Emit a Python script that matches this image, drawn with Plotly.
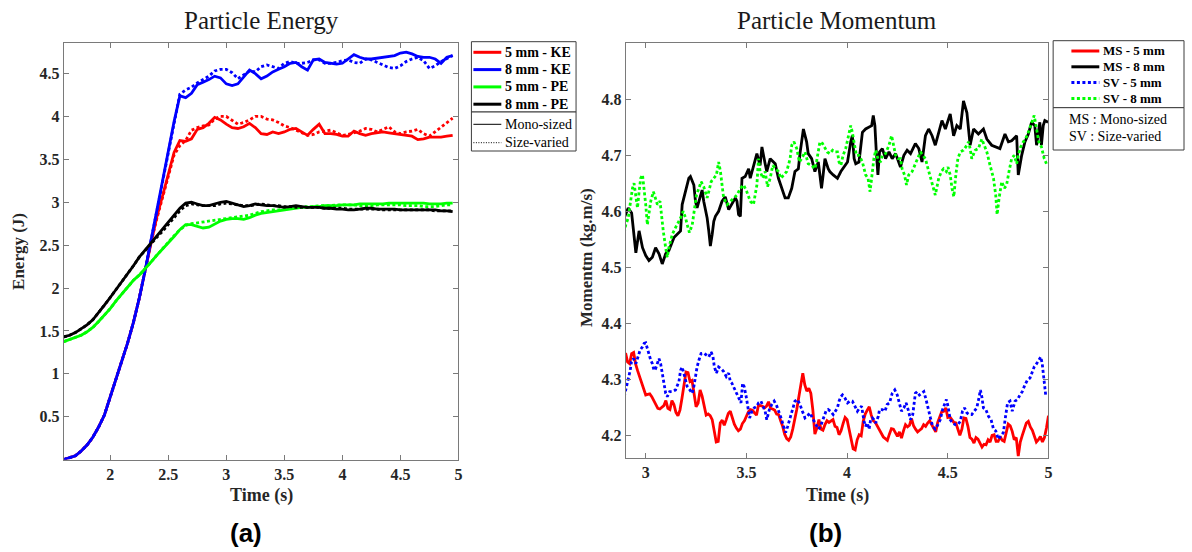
import numpy as np
import plotly.graph_objects as go

W, H = 1192, 552

# ---------------- Panel (a): Particle Energy ----------------
energy_time = np.round(1.60 + 0.05 * np.arange(68), 2)   # 1.60 ... 4.95

ke_5mm_ms = [0.00, 0.02, 0.045, 0.10, 0.17, 0.26, 0.38, 0.52,
             0.73, 0.92, 1.14, 1.36, 1.60, 1.88, 2.20, 2.53, 2.82, 3.07, 3.33, 3.58, 3.72, 3.71, 3.74, 3.85, 3.87, 3.92, 3.99, 3.96,
             3.91, 3.87, 3.86, 3.88, 3.92, 3.87, 3.80, 3.79, 3.82, 3.80, 3.82, 3.85, 3.86, 3.82, 3.78, 3.85, 3.91, 3.80, 3.80, 3.79,
             3.77, 3.77, 3.83, 3.80, 3.78, 3.80, 3.81, 3.82, 3.81, 3.80, 3.79, 3.78, 3.77, 3.73, 3.74, 3.76, 3.76, 3.76, 3.77, 3.78]
ke_5mm_sv = [0.00, 0.02, 0.045, 0.10, 0.17, 0.26, 0.38, 0.52,
             0.73, 0.92, 1.14, 1.36, 1.60, 1.88, 2.20, 2.53, 2.80, 3.04, 3.30, 3.55, 3.66, 3.72, 3.84, 3.87, 3.89, 3.90, 3.97, 4.00,
             4.00, 3.95, 3.91, 3.93, 3.96, 4.00, 4.00, 3.97, 3.96, 3.93, 3.89, 3.87, 3.84, 3.81, 3.78, 3.79, 3.82, 3.83, 3.84, 3.81,
             3.78, 3.79, 3.81, 3.83, 3.86, 3.85, 3.82, 3.85, 3.88, 3.82, 3.80, 3.82, 3.83, 3.85, 3.80, 3.77, 3.82, 3.87, 3.92, 3.98]
ke_8mm_ms = [0.00, 0.02, 0.045, 0.10, 0.17, 0.26, 0.38, 0.52,
             0.73, 0.92, 1.14, 1.36, 1.60, 1.88, 2.20, 2.55, 2.88, 3.22, 3.58, 3.94, 4.24, 4.22, 4.27, 4.37, 4.40, 4.43, 4.47, 4.45,
             4.38, 4.36, 4.38, 4.46, 4.54, 4.50, 4.44, 4.47, 4.52, 4.55, 4.58, 4.62, 4.63, 4.58, 4.54, 4.66, 4.67, 4.63, 4.62, 4.61,
             4.62, 4.67, 4.72, 4.69, 4.67, 4.67, 4.68, 4.69, 4.70, 4.71, 4.74, 4.75, 4.73, 4.70, 4.69, 4.69, 4.67, 4.62, 4.69, 4.71]
ke_8mm_sv = [0.00, 0.02, 0.045, 0.10, 0.17, 0.26, 0.38, 0.52,
             0.73, 0.92, 1.14, 1.36, 1.60, 1.88, 2.20, 2.55, 2.88, 3.21, 3.56, 3.92, 4.26, 4.31, 4.34, 4.39, 4.43, 4.47, 4.53, 4.55,
             4.55, 4.51, 4.44, 4.49, 4.53, 4.52, 4.58, 4.60, 4.58, 4.56, 4.62, 4.64, 4.62, 4.62, 4.63, 4.66, 4.66, 4.62, 4.62, 4.63,
             4.65, 4.66, 4.63, 4.62, 4.67, 4.66, 4.63, 4.60, 4.57, 4.56, 4.59, 4.64, 4.67, 4.69, 4.65, 4.56, 4.59, 4.64, 4.68, 4.71]
pe_5mm_ms = [1.375, 1.40, 1.42, 1.45, 1.49, 1.54, 1.61, 1.68,
             1.76, 1.85, 1.93, 2.02, 2.09, 2.15, 2.22, 2.30, 2.38, 2.45, 2.52, 2.60, 2.68, 2.74, 2.74, 2.72, 2.70, 2.71, 2.75, 2.78,
             2.80, 2.81, 2.81, 2.80, 2.82, 2.85, 2.87, 2.88, 2.89, 2.90, 2.91, 2.92, 2.93, 2.94, 2.94, 2.95, 2.95, 2.96, 2.96, 2.96,
             2.97, 2.97, 2.97, 2.98, 2.98, 2.98, 2.98, 2.98, 2.99, 2.99, 2.99, 2.99, 2.99, 2.99, 2.99, 2.98, 2.98, 2.98, 2.99, 2.99]
pe_5mm_sv = [1.375, 1.40, 1.42, 1.45, 1.49, 1.54, 1.61, 1.68,
             1.76, 1.85, 1.93, 2.02, 2.09, 2.15, 2.22, 2.30, 2.38, 2.46, 2.53, 2.61, 2.68, 2.73, 2.75, 2.76, 2.77, 2.78, 2.79, 2.80,
             2.81, 2.82, 2.83, 2.84, 2.85, 2.87, 2.89, 2.90, 2.91, 2.91, 2.92, 2.93, 2.94, 2.95, 2.95, 2.95, 2.96, 2.96, 2.96, 2.97,
             2.97, 2.97, 2.97, 2.96, 2.96, 2.96, 2.97, 2.97, 2.97, 2.97, 2.97, 2.96, 2.96, 2.96, 2.95, 2.95, 2.95, 2.96, 2.97, 2.97]
pe_8mm_ms = [1.43, 1.45, 1.48, 1.52, 1.57, 1.63, 1.71, 1.80,
             1.89, 1.98, 2.07, 2.16, 2.26, 2.36, 2.44, 2.53, 2.60, 2.68, 2.76, 2.85, 2.93, 2.99, 3.00, 2.98, 2.96, 2.96, 2.98, 3.00,
             3.01, 2.99, 2.97, 2.95, 2.96, 2.98, 2.97, 2.96, 2.96, 2.95, 2.94, 2.95, 2.96, 2.95, 2.94, 2.94, 2.94, 2.93, 2.93, 2.92,
             2.92, 2.91, 2.91, 2.92, 2.93, 2.93, 2.92, 2.92, 2.92, 2.92, 2.91, 2.91, 2.91, 2.91, 2.91, 2.91, 2.91, 2.90, 2.90, 2.89]
pe_8mm_sv = [1.43, 1.45, 1.48, 1.52, 1.57, 1.63, 1.71, 1.80,
             1.89, 1.98, 2.07, 2.16, 2.26, 2.36, 2.44, 2.52, 2.59, 2.66, 2.74, 2.83, 2.90, 2.96, 2.98, 2.97, 2.96, 2.96, 2.96, 2.98,
             2.99, 2.98, 2.97, 2.96, 2.96, 2.97, 2.98, 2.97, 2.96, 2.96, 2.95, 2.95, 2.94, 2.94, 2.94, 2.94, 2.94, 2.93, 2.93, 2.93,
             2.93, 2.92, 2.92, 2.92, 2.92, 2.92, 2.92, 2.91, 2.91, 2.91, 2.91, 2.91, 2.91, 2.91, 2.91, 2.91, 2.90, 2.90, 2.90, 2.90]

# ---------------- Panel (b): Particle Momentum ----------------
mom_time = np.round(2.90 + 0.01 * np.arange(211), 2)    # 2.90 ... 5.00
ms_5mm = [4.347, 4.331, 4.328, 4.346, 4.348, 4.327, 4.315, 4.304, 4.296, 4.284,
          4.272, 4.273, 4.274, 4.269, 4.261, 4.254, 4.248, 4.247, 4.251, 4.253,
          4.262, 4.248, 4.246, 4.262, 4.255, 4.241, 4.235, 4.245, 4.266, 4.294,
          4.313, 4.312, 4.296, 4.298, 4.278, 4.251, 4.257, 4.281, 4.270, 4.254,
          4.236, 4.238, 4.235, 4.228, 4.206, 4.188, 4.189, 4.222, 4.227, 4.218,
          4.228, 4.239, 4.243, 4.229, 4.220, 4.213, 4.208, 4.211, 4.221, 4.226,
          4.233, 4.242, 4.246, 4.245, 4.240, 4.236, 4.254, 4.253, 4.252, 4.249,
          4.252, 4.260, 4.248, 4.247, 4.245, 4.238, 4.237, 4.226, 4.216, 4.202,
          4.194, 4.191, 4.197, 4.211, 4.226, 4.246, 4.268, 4.292, 4.311, 4.290,
          4.279, 4.284, 4.275, 4.245, 4.202, 4.213, 4.228, 4.211, 4.209, 4.219,
          4.226, 4.223, 4.226, 4.228, 4.216,
          4.214, 4.201, 4.208, 4.221, 4.232,
          4.228, 4.210, 4.191, 4.176, 4.174, 4.192, 4.201, 4.199, 4.225, 4.238,
          4.245, 4.251, 4.236, 4.226, 4.223, 4.216, 4.209, 4.202, 4.197, 4.194,
          4.191, 4.202, 4.212, 4.211, 4.205, 4.198, 4.206, 4.195, 4.208, 4.219,
          4.215, 4.218, 4.230, 4.217, 4.211, 4.206, 4.209, 4.212, 4.219, 4.216,
          4.222, 4.226, 4.219, 4.211, 4.206, 4.223, 4.231, 4.242, 4.243, 4.249,
          4.232, 4.233, 4.228, 4.223, 4.222, 4.212, 4.200, 4.211, 4.231, 4.230,
          4.216, 4.196, 4.193, 4.186, 4.196, 4.193, 4.185, 4.179, 4.184, 4.183,
          4.192, 4.188, 4.200, 4.201, 4.189, 4.189, 4.198, 4.191, 4.189, 4.203,
          4.220, 4.217, 4.207, 4.192, 4.196, 4.163, 4.188, 4.200, 4.212, 4.222,
          4.225, 4.215, 4.209, 4.199, 4.188, 4.192, 4.198, 4.188, 4.196, 4.213,
          4.235]

ms_8mm_pts = [
    (2.893, 4.588), (2.913, 4.606), (2.93, 4.597), (2.951, 4.526), (2.967, 4.565), (2.984, 4.535), (3.0, 4.521),
    (3.016, 4.512), (3.033, 4.518), (3.049, 4.535), (3.066, 4.524), (3.082, 4.506), (3.099, 4.524), (3.115, 4.53),
    (3.14, 4.553), (3.157, 4.559), (3.173, 4.565), (3.181, 4.612), (3.198, 4.635), (3.214, 4.659), (3.222, 4.662),
    (3.239, 4.647), (3.247, 4.618), (3.255, 4.606), (3.269, 4.624), (3.28, 4.638), (3.288, 4.618), (3.296, 4.606),
    (3.305, 4.588), (3.313, 4.565), (3.321, 4.538), (3.33, 4.559), (3.338, 4.582), (3.346, 4.591), (3.362, 4.6),
    (3.379, 4.618), (3.395, 4.626), (3.412, 4.603), (3.428, 4.612), (3.445, 4.624), (3.453, 4.618), (3.461, 4.594),
    (3.47, 4.591), (3.478, 4.659), (3.494, 4.662), (3.511, 4.676), (3.519, 4.659), (3.535, 4.682), (3.552, 4.703),
    (3.568, 4.682), (3.577, 4.715), (3.593, 4.685), (3.601, 4.671), (3.618, 4.694), (3.643, 4.685), (3.659, 4.659),
    (3.676, 4.641), (3.692, 4.624), (3.708, 4.624), (3.725, 4.641), (3.741, 4.671), (3.758, 4.676), (3.766, 4.703),
    (3.783, 4.747), (3.799, 4.724), (3.807, 4.703), (3.824, 4.694), (3.84, 4.671), (3.857, 4.688), (3.873, 4.641),
    (3.881, 4.665), (3.89, 4.694), (3.906, 4.676), (3.914, 4.671), (3.931, 4.665),
    (3.952, 4.659), (3.969, 4.671), (3.985, 4.679), (4.002, 4.688), (4.018, 4.724), (4.026, 4.735), (4.035, 4.694),
    (4.043, 4.685), (4.059, 4.688), (4.076, 4.741), (4.092, 4.747), (4.109, 4.75), (4.122, 4.753), (4.13, 4.771),
    (4.138, 4.753), (4.145, 4.706), (4.153, 4.665), (4.161, 4.706), (4.175, 4.712), (4.191, 4.694), (4.208, 4.706),
    (4.224, 4.694), (4.241, 4.703), (4.265, 4.679), (4.282, 4.7), (4.298, 4.709), (4.315, 4.703), (4.339, 4.721),
    (4.356, 4.712), (4.372, 4.688), (4.389, 4.735), (4.405, 4.747), (4.422, 4.735), (4.438, 4.718), (4.455, 4.741),
    (4.471, 4.762), (4.488, 4.747), (4.512, 4.774), (4.529, 4.735), (4.545, 4.753), (4.562, 4.747), (4.578, 4.797),
    (4.595, 4.776), (4.603, 4.741), (4.611, 4.718), (4.628, 4.747), (4.652, 4.738), (4.677, 4.747), (4.694, 4.729),
    (4.718, 4.718), (4.735, 4.715), (4.759, 4.712), (4.784, 4.738), (4.801, 4.724), (4.817, 4.726), (4.842, 4.735),
    (4.85, 4.665), (4.867, 4.7), (4.883, 4.724), (4.9, 4.738), (4.916, 4.759), (4.932, 4.753), (4.941, 4.718),
    (4.957, 4.759), (4.965, 4.718), (4.974, 4.753), (4.982, 4.762), (4.998, 4.759)]

sv_5mm_pts = [
    (2.893, 4.269), (2.901, 4.281), (2.913, 4.299), (2.923, 4.316), (2.929, 4.331), (2.939, 4.337), (2.951, 4.328),
    (2.962, 4.34), (2.972, 4.352), (2.984, 4.358), (2.992, 4.364), (3.0, 4.365), (3.008, 4.355), (3.016, 4.343),
    (3.025, 4.334), (3.033, 4.328), (3.041, 4.316), (3.049, 4.319), (3.058, 4.328), (3.066, 4.337), (3.074, 4.328),
    (3.082, 4.311), (3.091, 4.293), (3.099, 4.275), (3.107, 4.269), (3.119, 4.278), (3.132, 4.278), (3.148, 4.281),
    (3.165, 4.296), (3.173, 4.316), (3.181, 4.322), (3.189, 4.311), (3.198, 4.299), (3.206, 4.287), (3.219, 4.281),
    (3.231, 4.275), (3.239, 4.287), (3.247, 4.305), (3.255, 4.322), (3.264, 4.334), (3.275, 4.346), (3.288, 4.347),
    (3.301, 4.343), (3.313, 4.34), (3.325, 4.349), (3.334, 4.34), (3.341, 4.322), (3.351, 4.311), (3.362, 4.322),
    (3.374, 4.319), (3.387, 4.314), (3.4, 4.305), (3.412, 4.311), (3.42, 4.296), (3.428, 4.293), (3.44, 4.284),
    (3.453, 4.275), (3.466, 4.264), (3.473, 4.258), (3.481, 4.293), (3.489, 4.287), (3.499, 4.269), (3.506, 4.252),
    (3.516, 4.231), (3.527, 4.243), (3.539, 4.249), (3.552, 4.252), (3.56, 4.258), (3.572, 4.261), (3.582, 4.252),
    (3.593, 4.243), (3.601, 4.228), (3.614, 4.246), (3.626, 4.255), (3.638, 4.261), (3.651, 4.252), (3.664, 4.24),
    (3.675, 4.228), (3.684, 4.216), (3.695, 4.205), (3.705, 4.216), (3.717, 4.231), (3.73, 4.246), (3.741, 4.261),
    (3.753, 4.264), (3.766, 4.255), (3.778, 4.243), (3.791, 4.231), (3.802, 4.234), (3.815, 4.24), (3.832, 4.228),
    (3.845, 4.219), (3.857, 4.211), (3.868, 4.216), (3.881, 4.228), (3.895, 4.243), (3.906, 4.246), (3.918, 4.243),
    (3.931, 4.237),
    (3.952, 4.249), (3.96, 4.261), (3.969, 4.269), (3.977, 4.272), (3.99, 4.266), (4.002, 4.258), (4.013, 4.261),
    (4.026, 4.261), (4.04, 4.252), (4.051, 4.243), (4.063, 4.249), (4.072, 4.252), (4.084, 4.225), (4.092, 4.216),
    (4.1, 4.222), (4.109, 4.211), (4.117, 4.228), (4.125, 4.231), (4.133, 4.228), (4.142, 4.222), (4.155, 4.234),
    (4.161, 4.246), (4.175, 4.246), (4.188, 4.243), (4.199, 4.255), (4.211, 4.258), (4.224, 4.275), (4.237, 4.281),
    (4.249, 4.272), (4.26, 4.255), (4.27, 4.243), (4.282, 4.249), (4.293, 4.258), (4.303, 4.246), (4.315, 4.228),
    (4.326, 4.237), (4.339, 4.275), (4.348, 4.278), (4.359, 4.272), (4.369, 4.275), (4.381, 4.278), (4.392, 4.264),
    (4.402, 4.246), (4.414, 4.231), (4.425, 4.216), (4.438, 4.211), (4.451, 4.219), (4.463, 4.228), (4.474, 4.246),
    (4.484, 4.255), (4.493, 4.264), (4.501, 4.252), (4.512, 4.228), (4.524, 4.222), (4.537, 4.219), (4.55, 4.219),
    (4.562, 4.225), (4.573, 4.243), (4.583, 4.249), (4.595, 4.24), (4.606, 4.237), (4.619, 4.237), (4.633, 4.243),
    (4.644, 4.249), (4.656, 4.269), (4.662, 4.281), (4.669, 4.269), (4.677, 4.249), (4.689, 4.246), (4.702, 4.234),
    (4.715, 4.228), (4.727, 4.211), (4.738, 4.208), (4.751, 4.193), (4.764, 4.199), (4.776, 4.205), (4.787, 4.234),
    (4.797, 4.258), (4.809, 4.261), (4.82, 4.243), (4.834, 4.261), (4.847, 4.264), (4.858, 4.272), (4.87, 4.278),
    (4.883, 4.29), (4.896, 4.299), (4.908, 4.302), (4.919, 4.311), (4.929, 4.322), (4.941, 4.328), (4.952, 4.334),
    (4.962, 4.34), (4.969, 4.328), (4.979, 4.299), (4.987, 4.269)]

sv_8mm_pts = [
    (2.893, 4.562), (2.901, 4.576), (2.913, 4.588), (2.923, 4.612), (2.934, 4.641), (2.942, 4.65), (2.951, 4.624),
    (2.959, 4.606), (2.967, 4.635), (2.975, 4.659), (2.984, 4.665), (2.992, 4.641), (3.0, 4.612), (3.008, 4.576),
    (3.016, 4.6), (3.025, 4.618), (3.038, 4.635), (3.049, 4.624), (3.058, 4.612), (3.071, 4.618), (3.077, 4.594),
    (3.087, 4.565), (3.099, 4.535), (3.107, 4.518), (3.115, 4.535), (3.132, 4.559), (3.148, 4.571), (3.165, 4.582),
    (3.173, 4.588), (3.186, 4.6), (3.198, 4.588), (3.206, 4.576), (3.217, 4.562), (3.231, 4.576), (3.242, 4.606),
    (3.252, 4.629), (3.264, 4.641), (3.275, 4.653), (3.288, 4.644), (3.297, 4.635), (3.305, 4.624), (3.313, 4.635),
    (3.325, 4.653), (3.338, 4.659), (3.351, 4.665), (3.362, 4.688), (3.371, 4.671), (3.379, 4.647), (3.387, 4.624),
    (3.404, 4.612), (3.42, 4.618), (3.437, 4.624), (3.453, 4.629), (3.47, 4.641), (3.486, 4.647), (3.502, 4.635),
    (3.519, 4.618), (3.535, 4.612), (3.544, 4.629), (3.552, 4.647), (3.56, 4.694), (3.568, 4.671), (3.582, 4.659),
    (3.593, 4.671), (3.605, 4.644), (3.618, 4.659), (3.631, 4.682), (3.647, 4.676), (3.659, 4.671), (3.671, 4.659),
    (3.684, 4.665), (3.7, 4.671), (3.717, 4.694), (3.725, 4.718), (3.736, 4.724), (3.75, 4.712), (3.763, 4.688),
    (3.774, 4.694), (3.791, 4.706), (3.807, 4.685), (3.824, 4.682), (3.84, 4.676), (3.848, 4.688), (3.865, 4.724),
    (3.878, 4.721), (3.89, 4.712), (3.901, 4.706), (3.914, 4.703), (3.928, 4.709), (3.939, 4.706),
    (3.952, 4.706), (3.96, 4.688), (3.969, 4.682), (3.98, 4.7), (3.993, 4.712), (4.007, 4.735), (4.018, 4.753),
    (4.026, 4.741), (4.035, 4.724), (4.046, 4.7), (4.059, 4.7), (4.076, 4.688), (4.092, 4.665), (4.104, 4.659),
    (4.114, 4.635), (4.122, 4.659), (4.133, 4.694), (4.142, 4.709), (4.153, 4.694), (4.166, 4.688), (4.175, 4.7),
    (4.191, 4.703), (4.208, 4.718), (4.221, 4.735), (4.232, 4.712), (4.241, 4.7), (4.254, 4.694), (4.265, 4.694),
    (4.273, 4.676), (4.285, 4.665), (4.295, 4.647), (4.306, 4.665), (4.323, 4.671), (4.336, 4.682), (4.348, 4.694),
    (4.364, 4.706), (4.376, 4.7), (4.389, 4.694), (4.402, 4.676), (4.414, 4.659), (4.425, 4.647), (4.438, 4.629),
    (4.455, 4.659), (4.468, 4.671), (4.479, 4.676), (4.493, 4.671), (4.501, 4.679), (4.512, 4.665), (4.521, 4.641),
    (4.53, 4.626), (4.54, 4.665), (4.55, 4.694), (4.562, 4.706), (4.578, 4.709), (4.595, 4.718), (4.603, 4.724),
    (4.611, 4.712), (4.619, 4.694), (4.636, 4.709), (4.652, 4.712), (4.669, 4.729), (4.682, 4.718), (4.694, 4.706),
    (4.71, 4.682), (4.727, 4.659), (4.738, 4.629), (4.745, 4.594), (4.755, 4.624), (4.768, 4.653), (4.781, 4.641),
    (4.792, 4.647), (4.804, 4.671), (4.817, 4.694), (4.83, 4.7), (4.842, 4.685), (4.85, 4.7), (4.862, 4.715),
    (4.875, 4.724), (4.886, 4.729), (4.9, 4.741), (4.916, 4.759), (4.929, 4.771), (4.941, 4.747), (4.952, 4.724),
    (4.965, 4.715), (4.979, 4.694), (4.99, 4.685)]

# ---------------- styling ----------------
RED, BLUE, GREEN, BLACK = "#FF0000", "#0000FF", "#00FF00", "#000000"
SERIF = "Liberation Serif"
AXIS_GRAY = "#7a7a7a"
TEXT_DARK = "#262626"
LW = 2.8
DOT = "3px,2.5px"


def px(x):
    return x / W


def py(y):
    return 1 - y / H


fig = go.Figure()

energy_series = [
    (ke_5mm_ms, RED, "solid"), (ke_5mm_sv, RED, DOT),
    (ke_8mm_ms, BLUE, "solid"), (ke_8mm_sv, BLUE, DOT),
    (pe_5mm_ms, GREEN, "solid"), (pe_5mm_sv, GREEN, DOT),
    (pe_8mm_ms, BLACK, "solid"), (pe_8mm_sv, BLACK, DOT),
]
for vals, col, dash in energy_series:
    fig.add_trace(go.Scatter(x=energy_time, y=vals, mode="lines",
                             line=dict(color=col, width=LW, dash=dash),
                             xaxis="x", yaxis="y", showlegend=False, hoverinfo="skip"))

fig.add_trace(go.Scatter(x=mom_time, y=ms_5mm, mode="lines",
                         line=dict(color=RED, width=LW), xaxis="x2", yaxis="y2",
                         showlegend=False, hoverinfo="skip"))
for pts, col, dash in [(ms_8mm_pts, BLACK, "solid"), (sv_5mm_pts, BLUE, DOT), (sv_8mm_pts, GREEN, DOT)]:
    xs = [p[0] for p in pts]
    ys = [p[1] for p in pts]
    fig.add_trace(go.Scatter(x=xs, y=ys, mode="lines",
                             line=dict(color=col, width=LW, dash=dash),
                             xaxis="x2", yaxis="y2", showlegend=False, hoverinfo="skip"))

tickfont = dict(family=SERIF, size=16, color=TEXT_DARK, weight="bold")
axis_common = dict(showline=True, linecolor=AXIS_GRAY, linewidth=1, mirror="ticks",
                   ticks="inside", ticklen=5, tickcolor=AXIS_GRAY, tickwidth=1,
                   showgrid=False, zeroline=False, tickfont=tickfont)

fig.update_layout(
    width=W, height=H,
    margin=dict(l=0, r=0, t=0, b=0),
    paper_bgcolor="white", plot_bgcolor="white",
    xaxis=dict(domain=[px(64), px(460)], range=[1.6, 5], anchor="y",
               tickvals=[2, 2.5, 3, 3.5, 4, 4.5, 5],
               ticktext=["2", "2.5", "3", "3.5", "4", "4.5", "5"], **axis_common),
    yaxis=dict(domain=[py(459.6), py(42.7)], range=[0, 4.86], anchor="x",
               tickvals=[0.5, 1, 1.5, 2, 2.5, 3, 3.5, 4, 4.5],
               ticktext=["0.5", "1", "1.5", "2", "2.5", "3", "3.5", "4", "4.5"], **axis_common),
    xaxis2=dict(domain=[px(627.7), px(1052)], range=[2.9, 5], anchor="y2",
                tickvals=[3, 3.5, 4, 4.5, 5],
                ticktext=["3", "3.5", "4", "4.5", "5"], **axis_common),
    yaxis2=dict(domain=[py(457.7), py(43.3)], range=[4.16, 4.9], anchor="x2",
                tickvals=[4.2, 4.3, 4.4, 4.5, 4.6, 4.7, 4.8],
                ticktext=["4.2", "4.3", "4.4", "4.5", "4.6", "4.7", "4.8"], **axis_common),
)

annotations = []
shapes = []


def text(x, y, s, size, bold=False, family=SERIF, xanchor="center", angle=0, color=TEXT_DARK):
    annotations.append(dict(x=px(x), y=py(y), xref="paper", yref="paper", text=s, showarrow=False,
                            xanchor=xanchor, yanchor="middle", textangle=angle,
                            font=dict(family=family, size=size, color=color,
                                      weight="bold" if bold else "normal")))


# titles
text(262, 20, "Particle Energy", 25, color="#1a1a1a")
text(840, 20, "Particle Momentum", 25, color="#1a1a1a")
# axis titles
text(262, 495, "Time (s)", 18, bold=True)
text(840, 495, "Time (s)", 18, bold=True)
text(18, 251, "Energy (J)", 17, bold=True, angle=-90)
text(588, 258, "Momentm (kg.m/s)", 17, bold=True, angle=-90)
# panel labels
text(247, 533, "(a)", 26, bold=True, family="Liberation Sans", color="black")
text(828, 533, "(b)", 26, bold=True, family="Liberation Sans", color="black")


def box(x0, y0, x1, y1):
    shapes.append(dict(type="rect", xref="paper", yref="paper", x0=px(x0), x1=px(x1), y0=py(y1), y1=py(y0),
                       line=dict(color="#3c3c3c", width=1), fillcolor="white", layer="above"))


def sample(x0, x1, y, col, width, dash):
    shapes.append(dict(type="line", xref="paper", yref="paper", x0=px(x0), x1=px(x1), y0=py(y), y1=py(y),
                       line=dict(color=col, width=width, dash=dash), layer="above"))


# left legend
box(473, 41.7, 578, 112)
box(473, 112, 578, 151)
left_items = [("5 mm - KE", RED), ("8 mm - KE", BLUE), ("5 mm - PE", GREEN), ("8 mm - PE", BLACK)]
for i, (lab, col) in enumerate(left_items):
    yy = 52.3 + 17.3 * i
    sample(475, 503, yy, col, 3, "solid")
    text(505, yy, lab, 14, bold=True, xanchor="left", color="black")
sample(475, 503, 124.3, "black", 1, "solid")
text(505, 124.3, "Mono-sized", 14, xanchor="left", color="black")
sample(475, 503, 142.7, "black", 1, "1px,1.5px")
text(505, 142.7, "Size-varied", 14, xanchor="left", color="black")

# right legend
box(1056.7, 40.7, 1188, 107.7)
box(1056.7, 107.7, 1188, 150)
right_items = [("MS - 5 mm", RED, "solid"), ("MS - 8 mm", BLACK, "solid"),
               ("SV - 5 mm", BLUE, DOT), ("SV - 8 mm", GREEN, DOT)]
for i, (lab, col, dash) in enumerate(right_items):
    yy = 51 + 15.8 * i
    sample(1075, 1103, yy, col, 3, dash)
    text(1105, yy, lab, 13, bold=True, xanchor="left", color="black")
text(1071, 120, "MS : Mono-sized", 14, xanchor="left", color="black")
text(1071, 136, "SV : Size-varied", 14, xanchor="left", color="black")

fig.update_layout(annotations=annotations, shapes=shapes)

fig.write_html("out.html")
